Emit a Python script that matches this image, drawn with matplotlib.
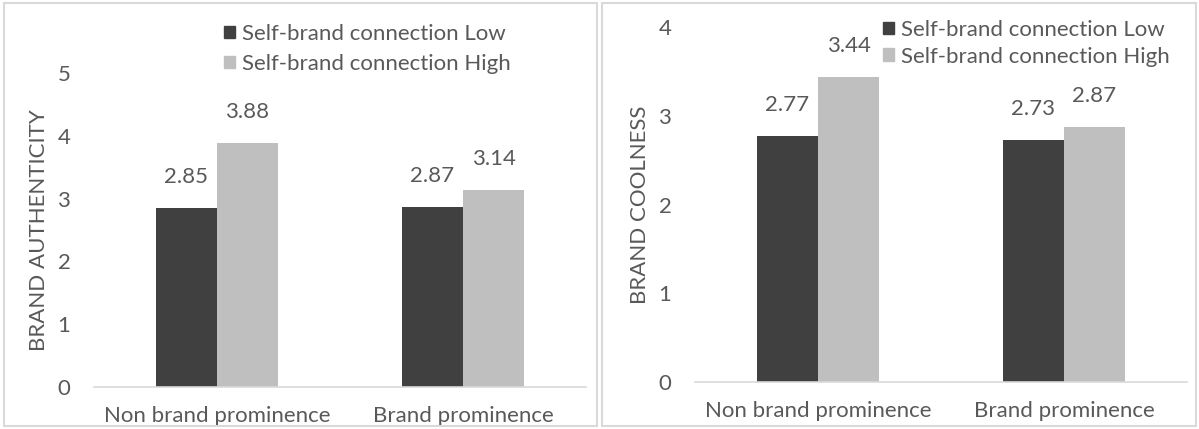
import matplotlib.pyplot as plt
from matplotlib.patches import Rectangle, Patch

plt.rcParams['font.family'] = ['Lato', 'DejaVu Sans']

categories = ['Non brand prominence', 'Brand prominence']
series_names = ['Self-brand connection Low', 'Self-brand connection High']
authenticity_low = [2.85, 2.87]
authenticity_high = [3.88, 3.14]
coolness_low = [2.77, 2.73]
coolness_high = [3.44, 2.87]

DARK = '#404040'
LIGHT = '#bfbfbf'
TEXT = '#595959'
FRAME = '#d9d9d9'
FS = 16

W, H = 1199, 429
fig = plt.figure(figsize=(W / 100, H / 100), dpi=100)


def px(x0, y0, x1, y1):
    # pixel box (top-left origin) -> figure fractions
    return [x0 / W, 1 - y1 / H, (x1 - x0) / W, (y1 - y0) / H]


def draw_panel(box, low, high, ymax, ylabel, leg_anchor, leg_spacing):
    ax = fig.add_axes(px(*box))
    x = range(len(categories))
    w = 0.248
    b1 = ax.bar([i - w / 2 for i in x], low, w, color=DARK, linewidth=0)
    b2 = ax.bar([i + w / 2 for i in x], high, w, color=LIGHT, linewidth=0)
    for bars, vals in ((b1, low), (b2, high)):
        for rect, v in zip(bars, vals):
            ax.annotate(f'{v:.2f}', (rect.get_x() + rect.get_width() / 2, v),
                        xytext=(0, 18), textcoords='offset points',
                        ha='center', va='baseline', fontsize=FS, color=TEXT)
    ax.set_xlim(-0.5, len(categories) - 0.5)
    ax.set_ylim(0, ymax)
    ax.set_yticks(range(ymax + 1))
    ax.set_xticks(list(x))
    ax.set_xticklabels(categories)
    ax.tick_params(length=0, labelsize=FS, labelcolor=TEXT)
    ax.tick_params(axis='y', pad=17)
    ax.tick_params(axis='x', pad=14)
    for s in ('top', 'right', 'left'):
        ax.spines[s].set_visible(False)
    ax.spines['bottom'].set_color(FRAME)
    ax.spines['bottom'].set_linewidth(1.2)
    ax.set_ylabel(ylabel, fontsize=FS, color=TEXT, labelpad=6)
    ax.patch.set_alpha(0)
    handles = [Patch(color=DARK), Patch(color=LIGHT)]
    fig.legend(handles, series_names, loc='upper left',
               bbox_to_anchor=(leg_anchor[0] / W, 1 - leg_anchor[1] / H),
               frameon=False, fontsize=FS, labelcolor=TEXT,
               handlelength=0.5, handleheight=0.5, handletextpad=0.3,
               labelspacing=leg_spacing, borderpad=0, borderaxespad=0)
    return ax


draw_panel((94, 73, 586, 387), authenticity_low, authenticity_high, 5,
           'BRAND AUTHENTICITY', (224, 24), 0.45)
draw_panel((695, 27, 1187, 382), coolness_low, coolness_high, 4,
           'BRAND COOLNESS', (883, 20), 0.3)

# chart area frames
for x0, x1 in ((4, 597), (602, 1196)):
    fig.patches.append(Rectangle((x0 / W, 3 / H), (x1 - x0) / W, 423 / H,
                                 transform=fig.transFigure, fill=False,
                                 edgecolor=FRAME, linewidth=1.5))

fig.savefig('out.png', dpi=100)
